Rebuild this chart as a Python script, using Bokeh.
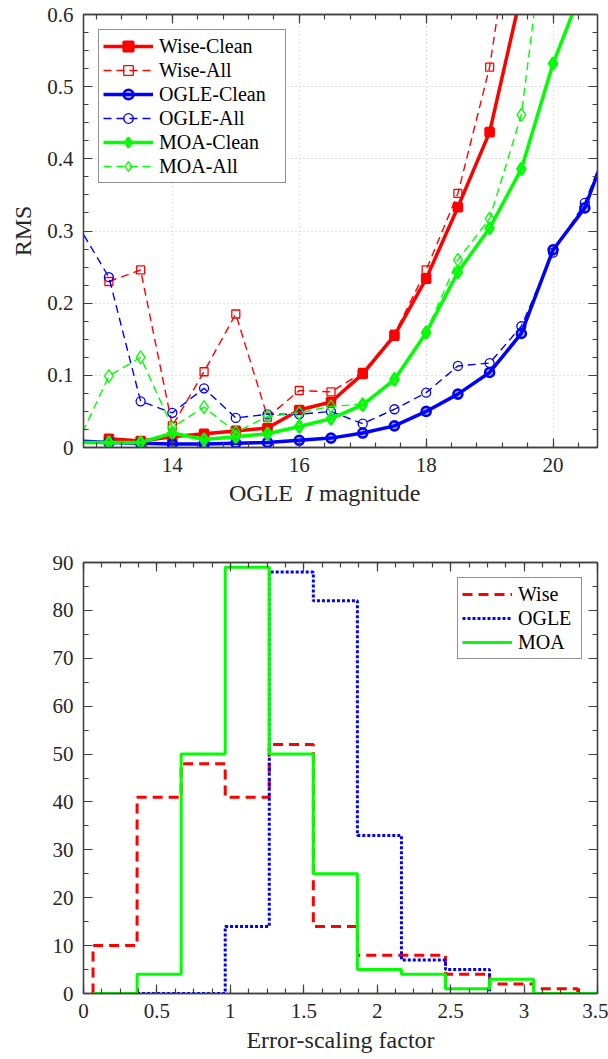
import numpy as np
from bokeh.plotting import figure
from bokeh.models import (LinearAxis, FixedTicker, CustomJSTickFormatter, Range1d,
                          Legend, LegendItem, Div)
from bokeh.layouts import column
from bokeh.embed import file_html
from bokeh.resources import INLINE

FONT = "Liberation Serif"
AXIS_COLOR = "#404040"
TEXT_COLOR = "#262626"
RED, BLUE, GREEN = "#ff0000", "#0000ff", "#00ff00"

# ---- RMS of the residuals against OGLE I magnitude ----
mag = [12.5, 13.0, 13.5, 14.0, 14.5, 15.0, 15.5, 16.0, 16.5,
       17.0, 17.5, 18.0, 18.5, 19.0, 19.5, 20.0, 20.5, 21.0]
wise_clean = [None, 0.012, 0.009, 0.015, 0.019, 0.023, 0.027, 0.052, 0.063,
              0.102, 0.155, 0.234, 0.333, 0.437, 0.630, None, None, None]
wise_all = [None, 0.230, 0.246, 0.030, 0.105, 0.185, 0.042, 0.079, 0.077,
            0.104, 0.157, 0.246, 0.352, 0.527, 0.820, None, None, None]
ogle_clean = [0.009, 0.007, 0.006, 0.005, 0.005, 0.006, 0.007, 0.010, 0.013,
              0.020, 0.030, 0.050, 0.074, 0.104, 0.158, 0.274, 0.332, 0.450]
ogle_all = [0.310, 0.236, 0.064, 0.048, 0.082, 0.041, 0.046, 0.046, 0.050,
            0.033, 0.053, 0.076, 0.113, 0.117, 0.168, 0.270, 0.339, 0.450]
moa_clean = [0.007, 0.007, 0.007, 0.020, 0.011, 0.015, 0.019, 0.029, 0.040,
             0.059, 0.094, 0.159, 0.243, 0.304, 0.386, 0.532, 0.645, None]
moa_all = [0.005, 0.099, 0.125, 0.028, 0.056, 0.021, 0.043, 0.048, 0.057,
           0.060, 0.095, 0.160, 0.260, 0.317, 0.461, 0.810, None, None]

# ---- histograms of the error-scaling factor ----
bin_start = 0.065
bin_width = 0.3
wise_counts = [10, 41, 48, 41, 52, 14, 8, 8, 4, 2, 1]
ogle_bin_offset = 1          # OGLE histogram begins one bin later
ogle_counts = [0, 0, 14, 88, 82, 33, 7, 5]
moa_counts = [0, 4, 50, 89, 50, 25, 5, 4, 1, 3, 0, 0]


def present(vals):
    xs = [m for m, v in zip(mag, vals) if v is not None]
    ys = [v for v in vals if v is not None]
    return xs, ys


def stairs(start, width, counts):
    edges = [start + width * i for i in range(len(counts) + 1)]
    xs = [edges[0]] + edges
    ys = [0] + list(counts) + [0]
    return xs, ys


num_fmt = CustomJSTickFormatter(code="return String(Math.round(tick*1000)/1000);")
blank_fmt = CustomJSTickFormatter(code="return '';")


def style_axis(ax, major, minor, labelled):
    ax.ticker = FixedTicker(ticks=list(major), minor_ticks=list(minor))
    ax.formatter = num_fmt if labelled else blank_fmt
    ax.major_tick_in = 9
    ax.major_tick_out = 0
    ax.minor_tick_in = 5
    ax.minor_tick_out = 0
    ax.axis_line_color = AXIS_COLOR
    ax.axis_line_width = 1.3
    ax.major_tick_line_color = AXIS_COLOR
    ax.minor_tick_line_color = AXIS_COLOR
    ax.major_tick_line_width = 1.2
    ax.minor_tick_line_width = 1.2
    ax.major_label_text_font = FONT
    ax.major_label_text_font_style = "normal"
    ax.major_label_text_font_size = "21px" if labelled else "0px"
    ax.major_label_text_color = TEXT_COLOR
    ax.major_label_standoff = 10 if labelled else 0
    ax.axis_label_text_font = FONT
    ax.axis_label_text_font_size = "24px"
    ax.axis_label_text_font_style = "normal"
    ax.axis_label_text_color = TEXT_COLOR


def frame_axes(p, xmajor, xminor, ymajor, yminor):
    bottom = p.xaxis[0]
    left = p.yaxis[0]
    style_axis(bottom, xmajor, xminor, True)
    style_axis(left, ymajor, yminor, True)
    top = LinearAxis()
    style_axis(top, xmajor, xminor, False)
    p.add_layout(top, "above")
    right = LinearAxis()
    style_axis(right, ymajor, yminor, False)
    p.add_layout(right, "right")
    p.outline_line_color = AXIS_COLOR
    p.outline_line_width = 1.3
    p.background_fill_color = "white"
    p.border_fill_color = "white"
    return bottom, left


def make_legend(items, location, label_width):
    lg = Legend(items=items, location=location)
    lg.label_text_font = FONT
    lg.label_text_font_size = "20px"
    lg.label_text_color = "black"
    lg.glyph_width = 50
    lg.glyph_height = 24
    lg.label_height = 24
    lg.label_width = label_width
    lg.label_standoff = 6
    lg.spacing = 0
    lg.padding = 4
    lg.margin = 15
    lg.border_line_color = "#262626"
    lg.border_line_width = 1
    lg.background_fill_color = "white"
    lg.background_fill_alpha = 1
    return lg


# ================= upper panel =================
p1 = figure(width=608, height=485, x_range=Range1d(12.6, 20.7), y_range=Range1d(0, 0.6),
            output_backend="svg", toolbar_location=None,
            min_border_left=83, min_border_right=11, min_border_top=14, min_border_bottom=38)
bx1, ly1 = frame_axes(p1, range(14, 21, 2), np.arange(12.8, 20.75, 0.4).round(2),
                      np.arange(0, 0.61, 0.1).round(2), np.arange(0, 0.61, 0.025).round(3))
ly1.axis_label = "RMS"
ly1.axis_label_standoff = 8
p1.xgrid.ticker = FixedTicker(ticks=[14, 16, 18, 20])
p1.ygrid.ticker = FixedTicker(ticks=[0.1, 0.2, 0.3, 0.4, 0.5])
for g in (p1.xgrid, p1.ygrid):
    g.grid_line_color = "#c8c8c8"
    g.grid_line_dash = "1 3"
    g.grid_line_width = 1

series = [
    ("Wise-Clean", wise_clean, RED, "square", True),
    ("Wise-All", wise_all, RED, "square", False),
    ("OGLE-Clean", ogle_clean, BLUE, "circle", True),
    ("OGLE-All", ogle_all, BLUE, "circle", False),
    ("MOA-Clean", moa_clean, GREEN, "diamond", True),
    ("MOA-All", moa_all, GREEN, "diamond", False),
]
marker_size = {("square", True): 8, ("square", False): 8,
               ("circle", True): 9, ("circle", False): 9,
               ("diamond", True): 12, ("diamond", False): 13}
items1 = []
for name, vals, color, marker, clean in series:
    xs, ys = present(vals)
    if clean:
        ln = p1.line(xs, ys, line_color=color, line_width=3.5)
        sc = p1.scatter(xs, ys, marker=marker, size=marker_size[(marker, True)],
                        line_color=color, line_width=2.6, fill_color=color,
                        fill_alpha=0.25 if marker != "square" else 1.0)
    else:
        ln = p1.line(xs, ys, line_color=color, line_width=1.4, line_dash="8 5")
        sc = p1.scatter(xs, ys, marker=marker, size=marker_size[(marker, False)],
                        line_color=color, line_width=1.3, fill_alpha=0)
    items1.append(LegendItem(label=name, renderers=[ln, sc]))
p1.add_layout(make_legend(items1, "top_left", 122))

# x-axis caption of the upper panel, with the italic band symbol
caption = Div(
    text=('<span style="font-family: \'Liberation Serif\', serif; font-size: 24px; '
          'line-height: 16px; color: #262626; white-space: nowrap;">'
          'OGLE&nbsp; <i>I</i> magnitude</span>'),
    width=608, height=35, margin=0,
    styles={"padding-left": "229px", "box-sizing": "border-box", "line-height": "16px"})

# ================= lower panel =================
p2 = figure(width=608, height=539, x_range=Range1d(0, 3.5), y_range=Range1d(0, 90),
            output_backend="svg", toolbar_location=None,
            min_border_left=83, min_border_right=11, min_border_top=42, min_border_bottom=66)
bx2, ly2 = frame_axes(p2, np.arange(0, 3.51, 0.5).round(2), np.arange(0, 3.51, 0.125).round(3),
                      range(0, 91, 10), range(0, 91, 5))
bx2.axis_label = "Error-scaling factor"
bx2.axis_label_standoff = 6
p2.xgrid.visible = False
p2.ygrid.visible = False

wx, wy = stairs(bin_start, bin_width, wise_counts)
ox, oy = stairs(bin_start + ogle_bin_offset * bin_width, bin_width, ogle_counts)
mx, my = stairs(bin_start, bin_width, moa_counts)
r_w = p2.step(wx, wy, mode="after", line_color=RED, line_width=3, line_dash="10 6")
r_o = p2.step(ox, oy, mode="after", line_color=BLUE, line_width=3, line_dash="3 2")
r_m = p2.step(mx, my, mode="after", line_color=GREEN, line_width=3)
items2 = [LegendItem(label="Wise", renderers=[r_w]),
          LegendItem(label="OGLE", renderers=[r_o]),
          LegendItem(label="MOA", renderers=[r_m])]
p2.add_layout(make_legend(items2, "top_right", 59))

layout = column(p1, caption, p2, spacing=0)
open("out.html", "w").write(file_html(layout, INLINE))
